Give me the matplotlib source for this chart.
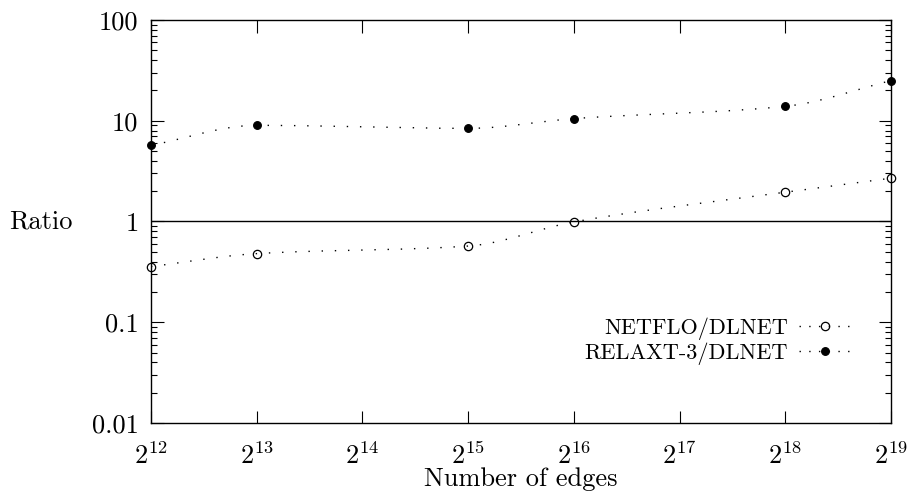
import numpy as np
import matplotlib
matplotlib.use('Agg')
import matplotlib.pyplot as plt
from matplotlib.ticker import FixedLocator, FuncFormatter, LogLocator, NullFormatter

#data
edges=[2**12,2**13,2**15,2**16,2**18,2**19]
netflo=[0.357,0.48,0.57,0.99,1.95,2.69]
relaxt=[5.7,9.0,8.4,10.5,13.9,25.0]
ytick_vals=[0.01,0.1,1,10,100]
ytick_labels=['0.01','0.1','1','10','100']

plt.rcParams['font.family']='cmr10'
plt.rcParams['mathtext.fontset']='cm'
plt.rcParams['axes.formatter.use_mathtext']=True
plt.rcParams['font.size']=19


def mcspline(x,y,n=300):
    #monotone cubic spline (Fritsch-Carlson), like gnuplot "smooth mcsplines"
    x=np.asarray(x,float); y=np.asarray(y,float)
    h=np.diff(x); dl=np.diff(y)/h
    m=np.zeros(len(x))
    m[0]=dl[0]; m[-1]=dl[-1]
    for i in range(1,len(x)-1):
        if dl[i-1]*dl[i]<=0:
            m[i]=0
        else:
            w1=2*h[i]+h[i-1]; w2=h[i]+2*h[i-1]
            m[i]=(w1+w2)/(w1/dl[i-1]+w2/dl[i])
    xs=np.linspace(x[0],x[-1],n); ys=np.empty(n)
    for j,xv in enumerate(xs):
        i=min(np.searchsorted(x,xv,side='right')-1,len(x)-2)
        t=(xv-x[i])/h[i]
        h00=2*t**3-3*t**2+1; h10=t**3-2*t**2+t
        h01=-2*t**3+3*t**2; h11=t**3-t**2
        ys[j]=h00*y[i]+h10*h[i]*m[i]+h01*y[i+1]+h11*h[i]*m[i+1]
    return xs,ys


fig=plt.figure(figsize=(9.16,4.95),dpi=100)
ax=fig.add_axes([0.1648,0.1455,0.8079,0.8141])
ax.set_xscale('log',base=2)
ax.set_yscale('log')

ax.axhline(1,color='k',lw=1.0,zorder=1)

dots=(0,(1,8.5))
lx=np.log2(edges)
for vals,mfc,ms,lab in [(netflo,'none',6,'NETFLO/DLNET'),(relaxt,'k',5.5,'RELAXT-3/DLNET')]:
    sx,sy=mcspline(lx,np.log10(vals))
    ax.plot(2**sx,10**sy,color='k',lw=1.0,linestyle=dots,zorder=2)
    ax.plot(edges,vals,'o',mfc=mfc,mec='k',ms=ms,mew=0.9,linestyle='none',zorder=3,clip_on=False)
    ax.plot([],[],color='k',lw=1.0,linestyle=(0,(1,6)),marker='o',mfc=mfc,mec='k',ms=ms,mew=0.9,label=lab)

ax.set_xlim(2**12,2**19)
ax.set_ylim(0.01,100)
ax.xaxis.set_major_locator(FixedLocator([2**i for i in range(12,20)]))
ax.xaxis.set_minor_locator(FixedLocator([]))
ax.xaxis.set_major_formatter(FuncFormatter(lambda v,p:r'$2^{%d}$'%round(np.log2(v))))
ax.yaxis.set_major_locator(FixedLocator(ytick_vals))
ax.yaxis.set_major_formatter(FuncFormatter(lambda v,p:ytick_labels[ytick_vals.index(v)] if v in ytick_vals else ''))
ax.yaxis.set_minor_locator(LogLocator(base=10,subs=np.arange(2,10)))
ax.yaxis.set_minor_formatter(NullFormatter())
ax.tick_params(axis='both',which='major',direction='in',length=9,width=0.8,labelsize=19,pad=9,top=True,right=True)
ax.tick_params(axis='y',which='minor',direction='in',length=4.5,width=0.8,right=True)
ax.tick_params(axis='x',which='major',labelsize=19,pad=14)
for s in ax.spines.values():
    s.set_linewidth(1.0)

ax.set_xlabel('Number of edges',fontsize=19,labelpad=-1)
ax.set_ylabel('Ratio',rotation=0,fontsize=19,va='center')
ax.yaxis.set_label_coords(-0.149,0.5)

leg=ax.legend(loc='lower right',bbox_to_anchor=(0.972,0.095),frameon=False,markerfirst=False,
              handlelength=2.3,fontsize=16,labelspacing=0.12,handletextpad=0.5)

plt.savefig('out.png',dpi=100)
